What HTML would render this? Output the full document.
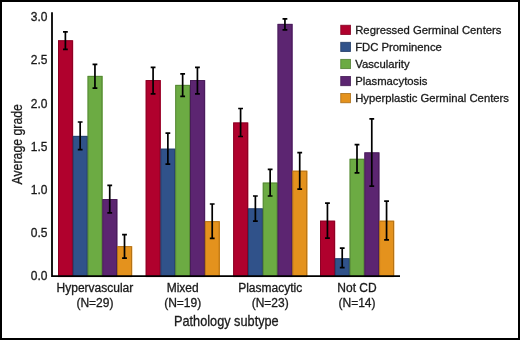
<!DOCTYPE html>
<html><head><meta charset="utf-8"><style>
html,body{margin:0;padding:0;background:#fff;}
body{width:520px;height:340px;overflow:hidden;}
svg{display:block;will-change:transform;}
text{stroke:#1a1a1a;stroke-width:0.3px;font-family:"Liberation Sans",sans-serif;}
</style></head><body>
<svg width="520" height="340" viewBox="0 0 520 340">
<rect x="0" y="0" width="520" height="340" fill="#fff"/>
<g><rect x="58.00" y="40.30" width="15.18" height="235.90" fill="#b0012d"/><rect x="72.78" y="135.90" width="15.18" height="140.30" fill="#30528a"/><rect x="87.56" y="75.90" width="15.18" height="200.30" fill="#6cab43"/><rect x="102.34" y="199.10" width="15.18" height="77.10" fill="#5c2571"/><rect x="117.12" y="246.20" width="15.18" height="30.00" fill="#e4921d"/><rect x="145.70" y="80.10" width="15.18" height="196.10" fill="#b0012d"/><rect x="160.48" y="148.70" width="15.18" height="127.50" fill="#30528a"/><rect x="175.26" y="84.90" width="15.18" height="191.30" fill="#6cab43"/><rect x="190.04" y="80.10" width="15.18" height="196.10" fill="#5c2571"/><rect x="204.82" y="221.20" width="15.18" height="55.00" fill="#e4921d"/><rect x="233.20" y="122.50" width="15.18" height="153.70" fill="#b0012d"/><rect x="247.98" y="208.40" width="15.18" height="67.80" fill="#30528a"/><rect x="262.76" y="182.60" width="15.18" height="93.60" fill="#6cab43"/><rect x="277.54" y="23.90" width="15.18" height="252.30" fill="#5c2571"/><rect x="292.32" y="170.70" width="15.18" height="105.50" fill="#e4921d"/><rect x="320.05" y="220.70" width="15.18" height="55.50" fill="#b0012d"/><rect x="334.83" y="258.30" width="15.18" height="17.90" fill="#30528a"/><rect x="349.61" y="158.80" width="15.18" height="117.40" fill="#6cab43"/><rect x="364.39" y="152.40" width="15.18" height="123.80" fill="#5c2571"/><rect x="379.17" y="220.70" width="15.18" height="55.50" fill="#e4921d"/></g>
<g stroke-width="0.9" stroke-opacity="0.9"><rect x="58.45" y="40.75" width="13.88" height="235.90" fill="none" stroke="#840021"/><rect x="73.23" y="136.35" width="13.88" height="140.30" fill="none" stroke="#243d67"/><rect x="88.01" y="76.35" width="13.88" height="200.30" fill="none" stroke="#518032"/><rect x="102.79" y="199.55" width="13.88" height="77.10" fill="none" stroke="#451b54"/><rect x="117.57" y="246.65" width="13.88" height="30.00" fill="none" stroke="#ab6d15"/><rect x="146.15" y="80.55" width="13.88" height="196.10" fill="none" stroke="#840021"/><rect x="160.93" y="149.15" width="13.88" height="127.50" fill="none" stroke="#243d67"/><rect x="175.71" y="85.35" width="13.88" height="191.30" fill="none" stroke="#518032"/><rect x="190.49" y="80.55" width="13.88" height="196.10" fill="none" stroke="#451b54"/><rect x="205.27" y="221.65" width="13.88" height="55.00" fill="none" stroke="#ab6d15"/><rect x="233.65" y="122.95" width="13.88" height="153.70" fill="none" stroke="#840021"/><rect x="248.43" y="208.85" width="13.88" height="67.80" fill="none" stroke="#243d67"/><rect x="263.21" y="183.05" width="13.88" height="93.60" fill="none" stroke="#518032"/><rect x="277.99" y="24.35" width="13.88" height="252.30" fill="none" stroke="#451b54"/><rect x="292.77" y="171.15" width="13.88" height="105.50" fill="none" stroke="#ab6d15"/><rect x="320.50" y="221.15" width="13.88" height="55.50" fill="none" stroke="#840021"/><rect x="335.28" y="258.75" width="13.88" height="17.90" fill="none" stroke="#243d67"/><rect x="350.06" y="159.25" width="13.88" height="117.40" fill="none" stroke="#518032"/><rect x="364.84" y="152.85" width="13.88" height="123.80" fill="none" stroke="#451b54"/><rect x="379.62" y="221.15" width="13.88" height="55.50" fill="none" stroke="#ab6d15"/></g>
<g stroke="#000" stroke-width="1.7" fill="none"><path d="M65.39 31.80V49.40M62.99 31.80H67.79M62.99 49.40H67.79"/><path d="M80.17 122.00V149.70M77.77 122.00H82.57M77.77 149.70H82.57"/><path d="M94.95 64.40V88.20M92.55 64.40H97.35M92.55 88.20H97.35"/><path d="M109.73 185.40V212.90M107.33 185.40H112.13M107.33 212.90H112.13"/><path d="M124.51 234.70V258.20M122.11 234.70H126.91M122.11 258.20H126.91"/><path d="M153.09 67.40V93.90M150.69 67.40H155.49M150.69 93.90H155.49"/><path d="M167.87 133.20V164.10M165.47 133.20H170.27M165.47 164.10H170.27"/><path d="M182.65 73.80V96.30M180.25 73.80H185.05M180.25 96.30H185.05"/><path d="M197.43 67.40V93.90M195.03 67.40H199.83M195.03 93.90H199.83"/><path d="M212.21 204.00V238.40M209.81 204.00H214.61M209.81 238.40H214.61"/><path d="M240.59 108.50V136.50M238.19 108.50H242.99M238.19 136.50H242.99"/><path d="M255.37 196.00V221.10M252.97 196.00H257.77M252.97 221.10H257.77"/><path d="M270.15 169.30V196.00M267.75 169.30H272.55M267.75 196.00H272.55"/><path d="M284.93 18.80V29.90M282.53 18.80H287.33M282.53 29.90H287.33"/><path d="M299.71 152.70V189.20M297.31 152.70H302.11M297.31 189.20H302.11"/><path d="M327.44 203.20V238.20M325.04 203.20H329.84M325.04 238.20H329.84"/><path d="M342.22 248.20V267.60M339.82 248.20H344.62M339.82 267.60H344.62"/><path d="M357.00 144.70V172.90M354.60 144.70H359.40M354.60 172.90H359.40"/><path d="M371.78 118.80V186.20M369.38 118.80H374.18M369.38 186.20H374.18"/><path d="M386.56 201.10V239.80M384.16 201.10H388.96M384.16 239.80H388.96"/></g>
<path d="M52 12.3V277.1M51.2 276.15H400" stroke="#000" stroke-width="1.8" fill="none"/>
<g font-size="12" fill="#1a1a1a"><text x="47.5" y="280.40" text-anchor="end">0.0</text><text x="47.5" y="237.20" text-anchor="end">0.5</text><text x="47.5" y="194.00" text-anchor="end">1.0</text><text x="47.5" y="150.80" text-anchor="end">1.5</text><text x="47.5" y="107.60" text-anchor="end">2.0</text><text x="47.5" y="64.40" text-anchor="end">2.5</text><text x="47.5" y="21.20" text-anchor="end">3.0</text></g>
<g font-size="12" fill="#1a1a1a"><text x="94.95" y="291.9" text-anchor="middle">Hypervascular</text><text x="94.95" y="306.6" text-anchor="middle">(N=29)</text><text x="182.65" y="291.9" text-anchor="middle">Mixed</text><text x="182.65" y="306.6" text-anchor="middle">(N=19)</text><text x="270.15" y="291.9" text-anchor="middle">Plasmacytic</text><text x="270.15" y="306.6" text-anchor="middle">(N=23)</text><text x="357.00" y="291.9" text-anchor="middle">Not CD</text><text x="357.00" y="306.6" text-anchor="middle">(N=14)</text></g>
<g font-size="11.3" fill="#1a1a1a"><rect x="340.75" y="25.25" width="9.7" height="9.2" fill="#b0012d" stroke="#840021" stroke-width="0.9" stroke-opacity="0.9"/><text x="355.2" y="34.00">Regressed Germinal Centers</text><rect x="340.75" y="42.32" width="9.7" height="9.2" fill="#30528a" stroke="#243d67" stroke-width="0.9" stroke-opacity="0.9"/><text x="355.2" y="51.07">FDC Prominence</text><rect x="340.75" y="59.39" width="9.7" height="9.2" fill="#6cab43" stroke="#518032" stroke-width="0.9" stroke-opacity="0.9"/><text x="355.2" y="68.14">Vascularity</text><rect x="340.75" y="76.46" width="9.7" height="9.2" fill="#5c2571" stroke="#451b54" stroke-width="0.9" stroke-opacity="0.9"/><text x="355.2" y="85.21">Plasmacytosis</text><rect x="340.75" y="93.53" width="9.7" height="9.2" fill="#e4921d" stroke="#ab6d15" stroke-width="0.9" stroke-opacity="0.9"/><text x="355.2" y="102.28">Hyperplastic Germinal Centers</text></g>
<text x="174" y="325.6" font-size="14.2" fill="#1a1a1a" textLength="104.7" lengthAdjust="spacingAndGlyphs">Pathology subtype</text>
<text transform="translate(22.3 184.5) rotate(-90)" x="0" y="0" font-size="14.2" fill="#1a1a1a" textLength="80.4" lengthAdjust="spacingAndGlyphs">Average grade</text>
<rect x="1" y="1" width="518" height="338" fill="none" stroke="#000" stroke-width="2"/>
</svg>
</body></html>
